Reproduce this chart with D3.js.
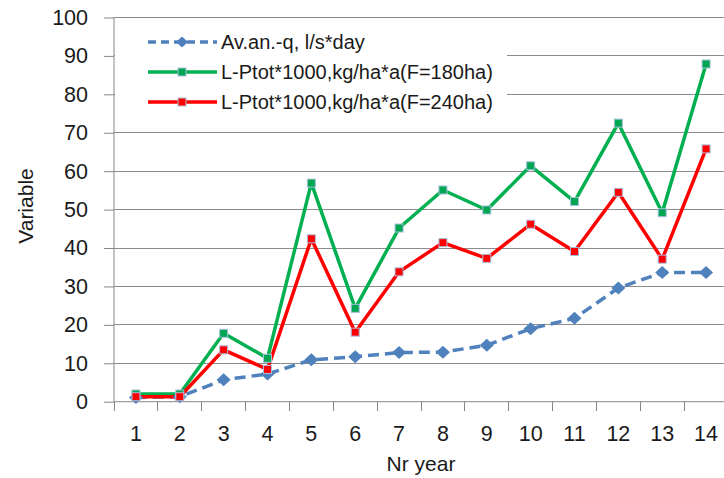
<!DOCTYPE html>
<html><head><meta charset="utf-8">
<script src="https://cdn.jsdelivr.net/npm/d3@7"></script>
<style>
html,body{margin:0;padding:0;background:#fff;overflow:hidden}
svg{display:block}
text{font-family:"Liberation Sans",Arial,sans-serif;fill:#1a1a1a}
</style></head>
<body><svg id="c" width="724" height="478"></svg>
<script>
const years = ["1","2","3","4","5","6","7","8","9","10","11","12","13","14"];
const seriesNames = ["Av.an.-q, l/s*day","L-Ptot*1000,kg/ha*a(F=180ha)","L-Ptot*1000,kg/ha*a(F=240ha)"];
const avQ  = [1.1, 1.3, 5.7, 7.2, 10.9, 11.7, 12.8, 12.9, 14.7, 19.0, 21.7, 29.6, 33.6, 33.6];
const p180 = [2.0, 2.0, 17.8, 11.3, 56.9, 24.3, 45.2, 55.1, 49.9, 61.4, 52.1, 72.5, 49.2, 87.9];
const p240 = [1.3, 1.3, 13.5, 8.4, 42.4, 18.1, 33.8, 41.4, 37.3, 46.2, 39.1, 54.5, 37.1, 65.8];
const yTicks = [0,10,20,30,40,50,60,70,80,90,100];

const svg = d3.select("#c");
const L = 114, R = 728, T = 17.5, B = 401.7;
const x = d3.scaleBand().domain(years).range([L, R]);
const y = d3.scaleLinear().domain([0,100]).range([B, T]);
const cx = d => x(d) + x.bandwidth()/2;

// gridlines
svg.append("g").selectAll("line").data(yTicks.filter(v=>v>0)).join("line")
  .attr("x1", L).attr("x2", 724).attr("y1", d=>y(d)).attr("y2", d=>y(d))
  .attr("stroke", "#8c8c8c").attr("stroke-width", 1).attr("shape-rendering","crispEdges");

// y axis
const ya = svg.append("g").attr("transform", `translate(${L},0)`)
  .call(d3.axisLeft(y).tickValues(yTicks).tickSize(10).tickPadding(16));
ya.select(".domain").attr("stroke","#868686").attr("d", `M0,${B}V${T}`);
ya.selectAll(".tick line").attr("stroke","#868686");
ya.selectAll(".tick text").attr("font-size", 21.5).attr("fill","#1a1a1a")
  .attr("font-family","Liberation Sans, Arial, sans-serif");

// x axis
const xa = svg.append("g").attr("transform", `translate(0,${B})`)
  .call(d3.axisBottom(x).tickSize(0).tickPadding(24));
xa.select(".domain").attr("stroke","#868686").attr("d", `M${L},0H724`);
xa.selectAll(".tick text").attr("font-size", 21.5).attr("fill","#1a1a1a")
  .attr("font-family","Liberation Sans, Arial, sans-serif");
// category boundary ticks
svg.append("g").selectAll("line").data(years).join("line")
  .attr("x1", d=>x(d)).attr("x2", d=>x(d)).attr("y1", B).attr("y2", B+9)
  .attr("stroke","#868686").attr("shape-rendering","crispEdges");

// axis titles
svg.append("text").attr("x", 421).attr("y", 471).attr("text-anchor","middle")
  .attr("font-size", 21).text("Nr year");
svg.append("text").attr("transform", "translate(33,206) rotate(-90)")
  .attr("text-anchor","middle").attr("font-size", 21).text("Variable");

// legend background
svg.append("rect").attr("x", L+1).attr("y", 26).attr("width", 392).attr("height", 92).attr("fill","#fff");

const styles = [
  {data: avQ, color:"#4f81bd", dash:"11,6", marker:"diamond"},
  {data: p180, color:"#00b050", dash:null, marker:"square", fill:"#00a651"},
  {data: p240, color:"#ff0000", dash:null, marker:"square", fill:"#ff0000"}
];
const line = d3.line().x((d,i)=>cx(years[i])).y(d=>y(d));

function drawMarker(g, s, px, py, small){
  if (s.marker === "diamond") {
    const hw = small ? 6 : 7, hh = small ? 5.5 : 6.5;
    g.append("path").attr("d", `M${px-hw},${py}L${px},${py-hh}L${px+hw},${py}L${px},${py+hh}Z`)
      .attr("fill", s.color);
  } else {
    const w = 8;
    g.append("rect").attr("x", px-w/2).attr("y", py-w/2).attr("width", w).attr("height", w)
      .attr("fill", s.fill).attr("stroke","#a7bfde").attr("stroke-width",1);
  }
}

styles.forEach(s => {
  svg.append("path").datum(s.data).attr("d", line).attr("fill","none")
    .attr("stroke", s.color).attr("stroke-width", 3.5)
    .attr("stroke-dasharray", s.dash).attr("stroke-linejoin","round");
});
styles.forEach(s => {
  const g = svg.append("g");
  s.data.forEach((v,i)=> drawMarker(g, s, cx(years[i]), y(v)));
});

// legend
const ly = [42, 72, 102];
styles.forEach((s,i) => {
  const g = svg.append("g");
  g.append("line").attr("x1",148).attr("x2",217).attr("y1",ly[i]).attr("y2",ly[i])
    .attr("stroke", s.color).attr("stroke-width",3.5)
    .attr("stroke-dasharray", s.dash ? "8,5" : null);
  drawMarker(g, s, 182, ly[i], true);
  g.append("text").attr("x", 221).attr("y", ly[i]).attr("dy","0.36em")
    .attr("font-size", 20).text(seriesNames[i]);
});
</script></body></html>
